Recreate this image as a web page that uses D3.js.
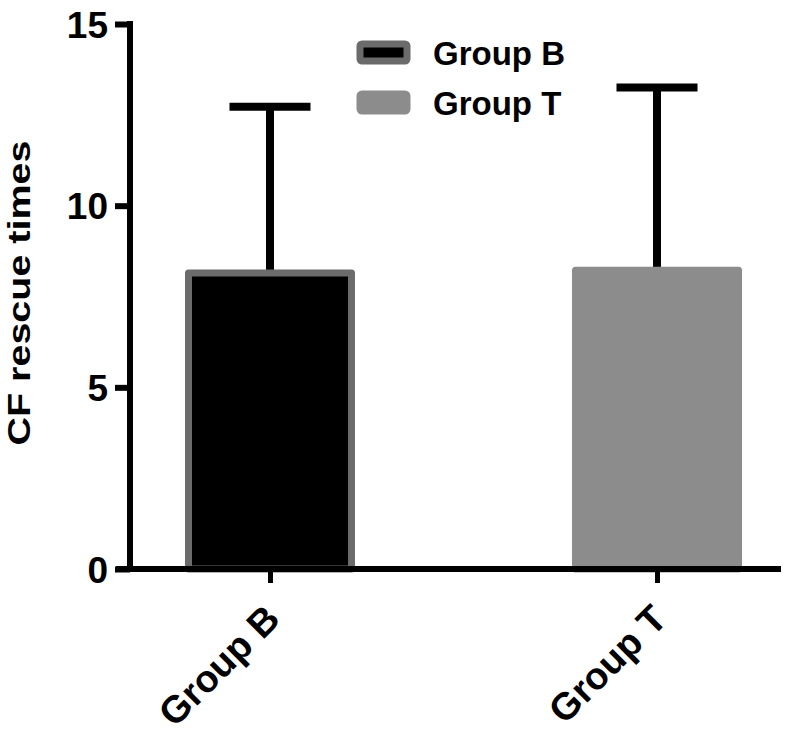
<!DOCTYPE html>
<html>
<head>
<meta charset="utf-8">
<script src="https://cdn.jsdelivr.net/npm/d3@7"></script>
<style>
    body { margin: 0; background: #fff; }
    svg text { font-family: "Liberation Sans", Arial, sans-serif; font-weight: bold; fill: #000; }
</style>
</head>
<body>
<svg id="chart" width="788" height="739"></svg>
<script>
// values
var groups = ['Group B', 'Group T'];
var means = [8.15, 8.22];
var sds = [4.57, 5.03];
var yTicks = [0, 5, 10, 15];
var yTitle = 'CF rescue times';

var fills = { 'Group B': '#000', 'Group T': '#8c8c8c' };
var edges = { 'Group B': '#6b6b6b', 'Group T': '#8c8c8c' };

var svg = d3.select('#chart');

var y0 = 569, y1 = 24,   // value axis, pixels
    axisX = 130,
    xLeft = 116, xRight = 781;

var y = d3.scaleLinear().domain([0, 15]).range([y0, y1]);
var x = d3.scalePoint().domain(groups).range([270, 657]);

var barW = 163, capW = 81;

// error bars go under the bars so only the upper part shows
svg.selectAll('.err').data(groups).enter().append('line')
        .attr('class', 'err')
        .attr('x1', function(d) { return x(d); })
        .attr('x2', function(d) { return x(d); })
        .attr('y1', function(d, i) { return y(means[i]); })
        .attr('y2', function(d, i) { return y(means[i] + sds[i]); })
        .attr('stroke', '#000')
        .attr('stroke-width', 8);

svg.selectAll('.cap').data(groups).enter().append('line')
        .attr('class', 'cap')
        .attr('x1', function(d) { return x(d) - capW / 2; })
        .attr('x2', function(d) { return x(d) + capW / 2; })
        .attr('y1', function(d, i) { return y(means[i] + sds[i]); })
        .attr('y2', function(d, i) { return y(means[i] + sds[i]); })
        .attr('stroke', '#000')
        .attr('stroke-width', 8);

svg.selectAll('.bar').data(groups).enter().append('rect')
        .attr('class', 'bar')
        .attr('x', function(d) { return x(d) - barW / 2; })
        .attr('width', barW)
        .attr('y', function(d, i) { return y(means[i]); })
        .attr('height', function(d, i) { return y(0) - y(means[i]); })
        .attr('fill', function(d) { return fills[d]; })
        .attr('stroke', function(d) { return edges[d]; })
        .attr('stroke-width', 7)
        .attr('stroke-linejoin', 'round');

// y axis
var yAxis = d3.axisLeft(y).tickValues(yTicks).tickSize(15).tickPadding(7).tickFormat(d3.format('d'));
var gy = svg.append('g').attr('transform', 'translate(' + axisX + ',0)').call(yAxis);
gy.select('.domain').remove();
gy.append('line')
        .attr('x1', 0).attr('x2', 0)
        .attr('y1', y(15) - 3).attr('y2', y0 + 3)
        .attr('stroke', '#000').attr('stroke-width', 6);
gy.selectAll('.tick line').attr('stroke', '#000').attr('stroke-width', 6);
gy.selectAll('.tick text')
        .attr('font-size', 37)
        .attr('fill', '#000')
        .attr('dy', '0.36em');

// x axis
var xAxis = d3.axisBottom(x).tickSize(14).tickFormat('');
var gx = svg.append('g').attr('transform', 'translate(0,' + y0 + ')').call(xAxis);
gx.select('.domain').remove();
gx.append('line')
        .attr('x1', xLeft).attr('x2', xRight)
        .attr('stroke', '#000').attr('stroke-width', 6);
gx.selectAll('.tick line').attr('stroke', '#000').attr('stroke-width', 5);

svg.selectAll('.xlabel').data(groups).enter().append('text')
        .attr('class', 'xlabel')
        .attr('text-anchor', 'end')
        .attr('font-size', 38)
        .attr('transform', function(d) {
            return 'translate(' + (x(d) + 12) + ',' + (y0 + 52) + ') rotate(-45)';
        })
        .text(function(d) { return d; });

// y title (stretched along its length like the original)
svg.append('text')
        .attr('text-anchor', 'middle')
        .attr('font-size', 32)
        .attr('textLength', 305)
        .attr('lengthAdjust', 'spacingAndGlyphs')
        .attr('transform', 'translate(30,293) rotate(-90)')
        .text(yTitle);

// legend
var legend = svg.selectAll('.legend').data(groups).enter().append('g')
        .attr('class', 'legend')
        .attr('transform', function(d, i) { return 'translate(360,' + (44 + i * 50) + ')'; });

legend.append('rect')
        .attr('width', 47).attr('height', 17)
        .attr('rx', 2)
        .attr('fill', function(d) { return fills[d]; })
        .attr('stroke', function(d) { return edges[d]; })
        .attr('stroke-width', 7)
        .attr('stroke-linejoin', 'round');

legend.append('text')
        .attr('x', 73)
        .attr('y', 21)
        .attr('font-size', 33)
        .text(function(d) { return d; });
</script>
</body>
</html>
